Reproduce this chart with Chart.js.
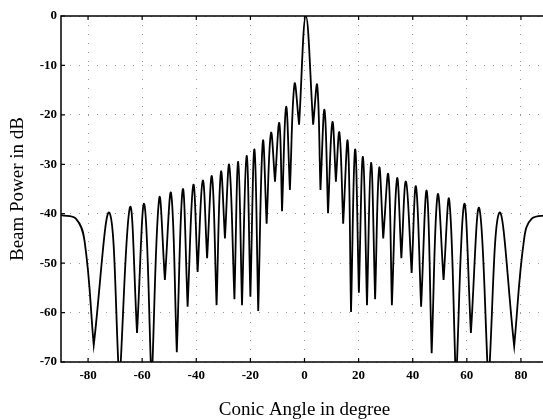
<!DOCTYPE html>
<html lang="en">
<head>
  <meta charset="UTF-8" />
  <title>Beam Pattern</title>
  <script src="https://cdn.jsdelivr.net/npm/chart.js"></script>
  <style>
    html, body {
      margin: 0;
      padding: 0;
      background: #fff;
      overflow: hidden;
    }
    .chart-container {
      width: 556px;
      height: 420px;
    }
  </style>
</head>
<body>

  <div class="chart-container">
    <canvas id="beamChart"></canvas>
  </div>

  <script>
    // lobe maxima: conic angle (deg) and beam power (dB)
    const peakAngle = [-72.1, -64.5, -59.2, -53.7, -49.3, -45.0, -41.1, -37.6, -34.2, -30.9,
                       -27.8, -24.5, -21.4, -18.5, -15.4, -12.4, -9.3, -6.8, -3.7, 0.5,
                       4.7, 7.4, 10.3, 12.9, 16.0, 18.7, 21.6, 24.6, 27.6, 31.0,
                       34.2, 37.5, 41.2, 45.2, 49.2, 53.5, 59.0, 64.6, 72.0];
    const peakDb = [-39.8, -38.7, -38.1, -36.9, -35.9, -35.1, -34.2, -33.3, -32.5, -31.6,
                    -30.2, -29.5, -28.3, -27.0, -25.4, -23.7, -21.7, -18.4, -13.8, 0,
                    -14.0, -19.0, -21.5, -23.6, -25.4, -27.0, -28.5, -29.7, -30.8, -32.1,
                    -32.9, -33.5, -34.5, -35.4, -36.2, -37.2, -38.1, -38.9, -39.8];

    // nulls between the lobes (the deepest ones run off the bottom of the plot)
    const nullAngle = [-77.9, -68.4, -61.9, -56.5, -51.6, -47.2, -43.2, -39.5, -36.0, -32.5,
                       -29.4, -25.9, -23.1, -20.0, -17.1, -14.0, -10.9, -8.3, -5.4, -2.0,
                       3.2, 5.9, 8.7, 11.6, 14.3, 17.2, 20.1, 23.1, 26.1, 29.1,
                       32.3, 35.8, 39.6, 43.1, 47.0, 51.4, 56.0, 61.5, 68.0, 77.5];
    const nullDb = [-66.6, -75, -64.1, -75, -53.4, -68.0, -58.8, -51.8, -49.0, -58.5,
                    -45.0, -57.3, -58.5, -56.8, -59.7, -42.0, -33.5, -39.5, -35.2, -22.0,
                    -22.0, -35.2, -39.9, -33.5, -42.0, -59.9, -56.0, -58.5, -57.3, -45.0,
                    -58.5, -49.0, -52.0, -58.8, -68.2, -53.4, -75, -64.1, -75, -66.8];

    // flat shoulders at both ends of the scan
    const edgeAngle = [-90, -84.5, -81.3, 81.2, 84.0, 90];
    const edgeDb = [-40.3, -41.0, -45.5, -45.0, -41.0, -40.3];

    const xTicks = [-80, -60, -40, -20, 0, 20, 40, 60, 80];
    const yTicks = [0, -10, -20, -30, -40, -50, -60, -70];

    // merge everything into one sorted trace; each null goes in twice so the
    // bezier spline makes a sharp notch there instead of a rounded trough
    const pts = [];
    peakAngle.forEach((a, i) => pts.push({ x: a, y: peakDb[i] }));
    edgeAngle.forEach((a, i) => pts.push({ x: a, y: edgeDb[i] }));
    nullAngle.forEach((a, i) => {
      pts.push({ x: a, y: nullDb[i] });
      pts.push({ x: a, y: nullDb[i] });
    });
    pts.sort((p, q) => p.x - q.x);

    const serif = 'Liberation Serif, Times New Roman, serif';

    // closed box with inward tick marks
    const boxAxes = {
      id: 'boxAxes',
      afterDraw(chart) {
        const { ctx, chartArea: a, scales } = chart;
        ctx.save();
        ctx.strokeStyle = '#000';
        ctx.lineWidth = 1.5;
        ctx.strokeRect(a.left, a.top, a.right - a.left, a.bottom - a.top);
        ctx.lineWidth = 1.2;
        ctx.beginPath();
        xTicks.forEach(v => {
          const x = scales.x.getPixelForValue(v);
          ctx.moveTo(x, a.top); ctx.lineTo(x, a.top + 4);
          ctx.moveTo(x, a.bottom); ctx.lineTo(x, a.bottom - 4);
        });
        yTicks.forEach(v => {
          const y = scales.y.getPixelForValue(v);
          ctx.moveTo(a.left, y); ctx.lineTo(a.left + 4, y);
          ctx.moveTo(a.right, y); ctx.lineTo(a.right - 4, y);
        });
        ctx.stroke();
        ctx.restore();
      }
    };

    new Chart(document.getElementById('beamChart'), {
      type: 'line',
      data: {
        datasets: [{
          data: pts,
          borderColor: '#000',
          borderWidth: 1.8,
          tension: 0.4,
          pointRadius: 0,
          fill: false
        }]
      },
      options: {
        responsive: true,
        maintainAspectRatio: false,
        animation: false,
        layout: { padding: { top: 16, right: 8, bottom: 0, left: 0 } },
        plugins: {
          legend: { display: false },
          tooltip: { enabled: false }
        },
        scales: {
          x: {
            type: 'linear',
            min: -90,
            max: 90,
            afterBuildTicks: s => { s.ticks = xTicks.map(v => ({ value: v })); },
            afterFit: s => { s.height = 58; },
            grid: { color: '#9a9a9a', lineWidth: 1, drawTicks: false },
            border: { display: false, dash: [1, 8] },
            ticks: {
              color: '#000',
              padding: 6,
              maxRotation: 0,
              font: { family: serif, size: 13, weight: 'bold' }
            },
            title: {
              display: true,
              text: 'Conic Angle in degree',
              color: '#000',
              padding: 0,
              font: { family: serif, size: 19, lineHeight: 1 }
            }
          },
          y: {
            min: -70,
            max: 0,
            afterBuildTicks: s => { s.ticks = yTicks.map(v => ({ value: v })); },
            afterFit: s => { s.width = 61; },
            grid: { color: '#9a9a9a', lineWidth: 1, drawTicks: false },
            border: { display: false, dash: [1, 8] },
            ticks: {
              color: '#000',
              padding: 4,
              font: { family: serif, size: 13, weight: 'bold' }
            },
            title: {
              display: true,
              text: 'Beam Power in dB',
              color: '#000',
              padding: { top: 8.5, bottom: 0 },
              font: { family: serif, size: 19, lineHeight: 1 }
            }
          }
        }
      },
      plugins: [boxAxes]
    });
  </script>
</body>
</html>
